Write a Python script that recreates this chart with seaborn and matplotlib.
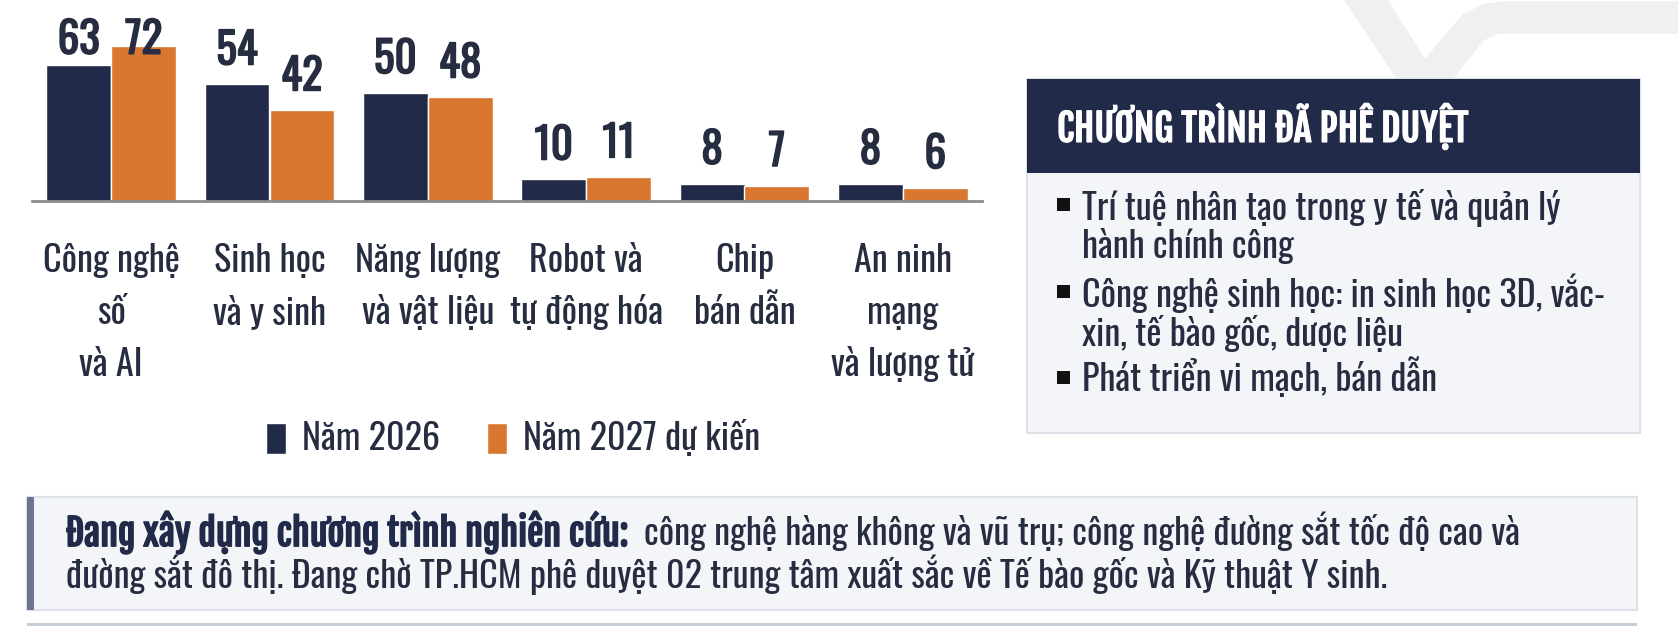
import matplotlib
matplotlib.use("Agg")
import matplotlib.pyplot as plt
from matplotlib.patches import Rectangle, Polygon
import matplotlib.patheffects as pe
import pandas as pd
import seaborn as sns

categories = ["Công nghệ\nsố\nvà AI", "Sinh học\nvà y sinh", "Năng lượng\nvà vật liệu",
              "Robot và\ntự động hóa", "Chip\nbán dẫn", "An ninh\nmạng\nvà lượng tử"]
series = ["Năm 2026", "Năm 2027 dự kiến"]
values_2026 = [63, 54, 50, 10, 8, 8]
values_2027 = [72, 42, 48, 11, 7, 6]

box_title = "CHƯƠNG TRÌNH ĐÃ PHÊ DUYỆT"
box_items = ["Trí tuệ nhân tạo trong y tế và quản lý\nhành chính công",
             "Công nghệ sinh học: in sinh học 3D, vắc-\nxin, tế bào gốc, dược liệu",
             "Phát triển vi mạch, bán dẫn"]
note_bold = "Đang xây dựng chương trình nghiên cứu:"
note_line1 = "công nghệ hàng không và vũ trụ; công nghệ đường sắt tốc độ cao và"
note_line2 = "đường sắt đô thị. Đang chờ TP.HCM phê duyệt 02 trung tâm xuất sắc về Tế bào gốc và Kỹ thuật Y sinh."

NAVY = "#212a48"
ORANGE = "#d97730"
TEXT = "#272d40"
BODY = ["Oswald", "Roboto Condensed", "DejaVu Sans"]
HEAVY = ["Fjalla One", "Oswald", "DejaVu Sans"]

sns.set_theme(style="white")
plt.rcParams["font.family"] = BODY

df = pd.DataFrame({
    "category": categories * 2,
    "series": [series[0]] * len(categories) + [series[1]] * len(categories),
    "value": values_2026 + values_2027,
})

W, H = 1678, 632
fig = plt.figure(figsize=(W / 100, H / 100), dpi=100)


def fx(px):
    return px / W


def fy(py):
    return 1 - py / H


# faint logo watermark at top right (partly hidden by the box)
logo = [(1345, 0), (1387, 0), (1425, 60), (1463, 15), (1483, 5), (1503, 2), (1678, 2),
        (1678, 33), (1498, 33), (1483, 40), (1453, 78), (1397, 78)]
fig.patches.append(Polygon([[fx(x), fy(y)] for x, y in logo], closed=True,
                           transform=fig.transFigure, color="#f0f0f0", zorder=0))

ax = fig.add_axes([fx(32), fy(201), fx(982) - fx(32), fy(11) - fy(201)])
ax.patch.set_alpha(0)
sns.barplot(data=df, x="category", y="value", hue="series", palette=[NAVY, ORANGE],
            width=0.82, saturation=1, ax=ax, legend=True)
ax.set_xlim(-0.5, len(categories) - 0.5)
ax.set_ylim(0, 88)
ax.set_xlabel("")
ax.set_ylabel("")
ax.set_yticks([])
for s in ["top", "right", "left"]:
    ax.spines[s].set_visible(False)
ax.spines["bottom"].set_color("#8c8c8c")
ax.spines["bottom"].set_linewidth(2)
ax.set_xticks(range(len(categories)))
ax.set_xticklabels(categories, fontsize=26, color=TEXT, linespacing=1.55, va="top")
ax.tick_params(axis="x", which="major", length=0, pad=30)
ax.set_xticks([i - 0.5 for i in range(len(categories) + 1)], minor=True)
ax.tick_params(axis="x", which="minor", length=15, width=1.5, color="#8c8c8c", direction="out")

bold_fx = [pe.withStroke(linewidth=1.1, foreground=TEXT)]
for cont in ax.containers:
    for bar in cont:
        v = bar.get_height()
        ax.text(bar.get_x() + bar.get_width() / 2, min(v + 5.5, 64.5), f"{v:.0f}",
                ha="center", va="bottom", fontsize=31, color=TEXT, path_effects=bold_fx)

handles, labels = ax.get_legend_handles_labels()
ax.legend_.remove()
fig.legend(handles, labels, loc="center", bbox_to_anchor=(fx(513), fy(439)), ncol=2, frameon=False,
           fontsize=26, handlelength=0.55, handleheight=0.95, handletextpad=0.45, columnspacing=1.3,
           labelcolor=TEXT)

# right box
fig.patches.append(Rectangle((fx(1027), fy(433)), fx(1640) - fx(1027), fy(79) - fy(433),
                             transform=fig.transFigure, facecolor="#f4f5f9", edgecolor="#dde1e8", lw=1.5))
fig.patches.append(Rectangle((fx(1027), fy(173)), fx(1640) - fx(1027), fy(79) - fy(173),
                             transform=fig.transFigure, facecolor=NAVY, edgecolor="none"))
fig.text(fx(1057), fy(126), box_title, fontsize=27, family=HEAVY, color="white", va="center", ha="left",
         path_effects=[pe.withStroke(linewidth=0.8, foreground="white")])
bullet_y = [205, 292, 378]
item_y = [227, 314, 378]
for by, y, item in zip(bullet_y, item_y, box_items):
    fig.patches.append(Rectangle((fx(1057), fy(by + 6)), fx(13), fy(0) - fy(13),
                                 transform=fig.transFigure, facecolor="#111111", edgecolor="none"))
    fig.text(fx(1082), fy(y), item, fontsize=26, color=TEXT, va="center", ha="left", linespacing=1.08)

# bottom note
fig.patches.append(Rectangle((fx(27), fy(610)), fx(1637) - fx(27), fy(497) - fy(610),
                             transform=fig.transFigure, facecolor="#f4f5f9", edgecolor="#dde1e8", lw=1.5))
fig.patches.append(Rectangle((fx(27), fy(610)), fx(7), fy(497) - fy(610),
                             transform=fig.transFigure, facecolor="#6b7490", edgecolor="none"))
fig.patches.append(Rectangle((fx(27), fy(626)), fx(1637) - fx(27), fy(0) - fy(3),
                             transform=fig.transFigure, facecolor="#c8ced9", edgecolor="none"))
t_bold = fig.text(fx(66), fy(532), note_bold, fontsize=26, family=HEAVY, color=NAVY, va="center", ha="left",
                  path_effects=[pe.withStroke(linewidth=1.0, foreground=NAVY)])
fig.canvas.draw()
bb = t_bold.get_window_extent()
fig.text(fx(bb.x1 + 16), fy(532), note_line1, fontsize=26, color=TEXT, va="center", ha="left")
fig.text(fx(66), fy(575), note_line2, fontsize=26, color=TEXT, va="center", ha="left")

fig.savefig("out.png", dpi=100)
